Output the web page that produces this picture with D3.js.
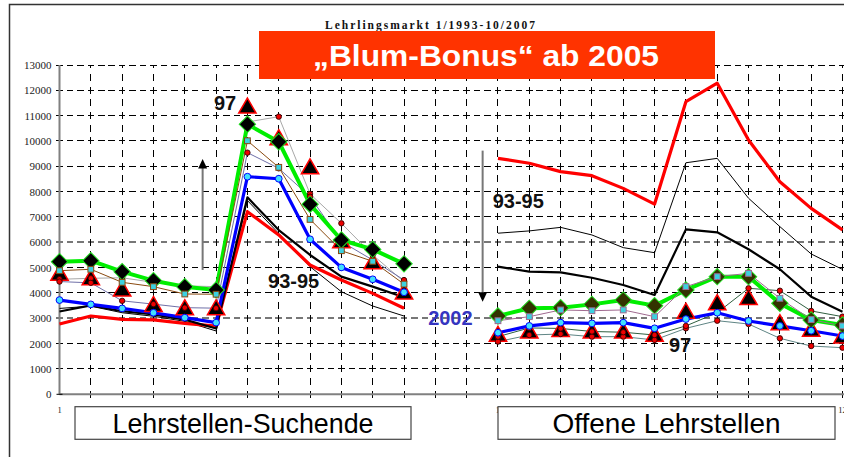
<!DOCTYPE html>
<html>
<head>
<meta charset="utf-8">
<script src="https://cdn.jsdelivr.net/npm/d3@7"></script>
<style>
  body { margin: 0; background: #fff; }
  svg { display: block; }
</style>
</head>
<body>
<svg id="chart" width="844" height="457"></svg>
<script>
// Monatswerte Jänner–Dezember, je Jahrgang eine Kurve
const monate = d3.range(1, 13).map(String);
const yTicks = d3.range(0, 13001, 1000);
const titel = "Lehrlingsmarkt 1/1993-10/2007";
const bannerText = "„Blum-Bonus“ ab 2005";

// Lehrstellen-Suchende
const suchendeRot      = [2775, 3090, 2960, 2935, 2800, 2690, 7210, 6290, 5105, 4510, 3985, 3395];
const suchendeSchwarz  = [3270, 3510, 3280, 3150, 2950, 2600, 7775, 6485, 5500, 4645, 4250, 3830];
const suchendeDuenn    = [3390, 3480, 3220, 3080, 2880, 2500, 7650, 6350, 5040, 4050, 3485, 3090];
const suchendeGrau     = [4540, 4580, 4600, 4420, 4280, 4250, 10750, 10960, 7910, 6750, 5500, 4445];
const suchendeSchiefer = [4450, 4400, 3690, 3560, 3420, 3400, 9540, 8920, 7800, 6030, 5300, 4510];
const suchende97       = [4700, 4520, 4080, 3470, 3340, 3340, 11300, 10050, 8900, 5980, 5150, 3960];
const suchendeGruen    = [5235, 5275, 4840, 4485, 4250, 4120, 10660, 9970, 7500, 6090, 5720, 5150];
const suchendeBraun    = [4880, 4935, 4420, 4250, 3960, 3950, 10010, 8960, 6905, 5670, 5250, 4350];
const suchendeBlau     = [3720, 3550, 3390, 3220, 3025, 2830, 8590, 8510, 6120, 5010, 4540, 4030];

// Offene Lehrstellen
const offeneRot      = [9315, 9120, 8790, 8630, 8130, 7510, 11550, 12280, 10040, 8390, 7340, 6490];
const offeneSchwarz  = [5040, 4840, 4815, 4600, 4315, 3920, 6510, 6395, 5725, 4935, 3855, 3260];
const offeneDuenn    = [6360, 6450, 6590, 6290, 5790, 5590, 9140, 9315, 7740, 6620, 5540, 4930];
const offeneGrau     = [2080, 2340, 2380, 2275, 2275, 2145, 2605, 2905, 2775, 2210, 1905, 1840];
const offeneSchiefer = [2275, 2620, 2600, 2480, 2450, 2340, 2700, 3220, 4185, 4090, 3290, 3065];
const offene97       = [2290, 2420, 2480, 2420, 2420, 2290, 3200, 3540, 3740, 2750, 2490, 2220];
const offeneGruen    = [3090, 3395, 3420, 3550, 3720, 3500, 4120, 4645, 4645, 3590, 2935, 2735];
const offeneBraun    = [2905, 3065, 3330, 3300, 3330, 3065, 4250, 4645, 4775, 3790, 2950, 2700];
const offeneBlau     = [2430, 2700, 2830, 2800, 2830, 2605, 2970, 3220, 2895, 2700, 2510, 2300];

// Kategorie-Positionen: Suchende ab 0, Offene ab 14
const START_SUCHENDE = 0, START_OFFENE = 14;

const svg = d3.select("#chart");
const x = d3.scaleLinear().domain([0, 25]).range([59.5, 842.5]);
const y = d3.scaleLinear().domain([0, 13000]).range([394.3, 65]);
const step = x(1) - x(0);
const rowStep = y(0) - y(1000);

const pts = (arr, start) => arr.map((v, k) => ({ i: start + k, v }));

// Serien: Linienstil je Block (links / rechts) und Marker
const serien = [
  { id: "grau", links: suchendeGrau, rechts: offeneGrau, farbe: ["#a8a8a8", "#5f8585"], breite: 1, marker: "punkt" },
  { id: "schiefer", links: suchendeSchiefer, rechts: offeneSchiefer, farbe: ["#7070a8", "#2f5f3f"], breite: 1, marker: "punkt" },
  { id: "duenn", links: suchendeDuenn, rechts: offeneDuenn, farbe: ["#000", "#000"], breite: 1, marker: null },
  { id: "rot", links: suchendeRot, rechts: offeneRot, farbe: ["#ff0000", "#ff0000"], breite: 3.2, marker: null },
  { id: "schwarz", links: suchendeSchwarz, rechts: offeneSchwarz, farbe: ["#000", "#000"], breite: 2.2, marker: null },
  { id: "j97", links: suchende97, rechts: offene97, farbe: null, breite: 0, marker: "dreieck" },
  { id: "gruen", links: suchendeGruen, rechts: offeneGruen, farbe: ["#00ee00", "#00ee00"], breite: 4, marker: "raute" },
  { id: "braun", links: suchendeBraun, rechts: offeneBraun, farbe: ["#8a4a10", "#a06a90"], breite: 1, marker: "quadrat" },
  { id: "blau", links: suchendeBlau, rechts: offeneBlau, farbe: ["#0000ff", "#0000ff"], breite: 3.2, marker: "kreis" }
];

const boxes = [
  { t: "Lehrstellen-Suchende", x0: 75, x1: 411, len: 261 },
  { t: "Offene Lehrstellen", x0: 498, x1: 835, len: 228 }
];

// Rahmen
svg.append("rect").attr("x", 9.5).attr("y", 4.5).attr("width", 900).attr("height", 500)
  .attr("fill", "#fff").attr("stroke", "#333").attr("stroke-width", 1.5);

// Gitter horizontal
const gridH = svg.append("g").attr("shape-rendering", "crispEdges");
yTicks.filter(v => v > 0).forEach(v => {
  const strong = v === 3000 || v === 6000;
  gridH.append("line")
    .attr("x1", x(0) - 3.25).attr("x2", 844)
    .attr("y1", y(v)).attr("y2", y(v))
    .attr("stroke", strong ? "#777" : "#000")
    .attr("stroke-width", strong ? 2 : 1)
    .attr("stroke-dasharray", `6.5,${(step / 3 - 6.5).toFixed(2)}`);
});
// Gitter vertikal
const gridV = svg.append("g").attr("shape-rendering", "crispEdges");
d3.range(1, 26).forEach(i => {
  gridV.append("line")
    .attr("x1", x(i)).attr("x2", x(i))
    .attr("y1", y(0) + 3.5).attr("y2", y(13000))
    .attr("stroke", "#000").attr("stroke-width", 1)
    .attr("stroke-dasharray", `7,${(rowStep / 2 - 7).toFixed(2)}`);
});

// Achsen
svg.append("line").attr("x1", x(0)).attr("x2", x(0)).attr("y1", y(13000)).attr("y2", y(0))
  .attr("stroke", "#808080").attr("stroke-width", 2);
svg.append("line").attr("x1", x(0)).attr("x2", 844).attr("y1", y(0)).attr("y2", y(0))
  .attr("stroke", "#808080").attr("stroke-width", 2);
svg.append("line").attr("x1", x(0) - 3).attr("x2", x(0) + 3).attr("y1", y(0)).attr("y2", y(0))
  .attr("stroke", "#000");

const yAxis = svg.append("g").attr("transform", `translate(${x(0) - 8},0)`)
  .call(d3.axisLeft(y).tickValues(yTicks).tickSize(0).tickFormat(d3.format("d")));
yAxis.select(".domain").remove();
yAxis.selectAll("text").attr("font-family", "Liberation Serif, serif").attr("font-size", 11)
  .attr("fill", "#222").attr("x", 0);

// x-Beschriftungen (Monate) – größtenteils von den Kästchen verdeckt
const xLab = svg.append("g").attr("font-family", "Liberation Serif, serif").attr("font-size", 8.5)
  .attr("fill", "#222").attr("text-anchor", "middle");
[START_SUCHENDE, START_OFFENE].forEach(s => {
  monate.forEach((m, k) => {
    xLab.append("text").attr("x", x(s + k)).attr("y", 412.5).text(m);
  });
});

// Linien
const line = d3.line().x(d => x(d.i)).y(d => y(d.v));
const linesG = svg.append("g").attr("fill", "none").attr("stroke-linejoin", "round");
function drawLines(s) {
  if (!s.farbe) return;
  [[s.links, START_SUCHENDE, 0], [s.rechts, START_OFFENE, 1]].forEach(([arr, st, p]) => {
    linesG.append("path").datum(pts(arr, st)).attr("d", line)
      .attr("stroke", s.farbe[p]).attr("stroke-width", s.breite);
  });
}

const markerG = svg.append("g");
function drawMarkers(s) {
  const all = [
    ...pts(s.links, START_SUCHENDE).map(d => ({ ...d, p: 0 })),
    ...pts(s.rechts, START_OFFENE).map(d => ({ ...d, p: 1 }))
  ];
  const g = markerG.append("g");
  if (s.marker === "dreieck") {
    g.selectAll("path").data(all).join("path")
      .attr("d", d3.symbol(d3.symbolTriangle, 130))
      .attr("transform", d => `translate(${x(d.i)},${y(d.v)})`)
      .attr("fill", "#000").attr("stroke", "#ff0000").attr("stroke-width", 1.5);
  } else if (s.marker === "punkt") {
    g.selectAll("circle").data(all).join("circle")
      .attr("cx", d => x(d.i)).attr("cy", d => y(d.v)).attr("r", 2.7)
      .attr("fill", "#ee0000").attr("stroke", "#300").attr("stroke-width", 0.9);
  } else if (s.marker === "raute") {
    g.selectAll("path").data(all).join("path")
      .attr("d", d3.symbol(d3.symbolSquare, 135))
      .attr("transform", d => `translate(${x(d.i)},${y(d.v)}) rotate(45)`)
      .attr("fill", d => d.p === 0 ? "#000" : "#333300")
      .attr("stroke", "#22dd22").attr("stroke-width", 1);
  } else if (s.marker === "quadrat") {
    g.selectAll("rect").data(all).join("rect")
      .attr("x", d => x(d.i) - 2.9).attr("y", d => y(d.v) - 2.9)
      .attr("width", 5.8).attr("height", 5.8)
      .attr("fill", "#3cd0e0").attr("stroke", d => s.farbe[d.p]).attr("stroke-width", 1);
  } else if (s.marker === "kreis") {
    g.selectAll("circle").data(all).join("circle")
      .attr("cx", d => x(d.i)).attr("cy", d => y(d.v)).attr("r", 3.4)
      .attr("fill", "#40e0ff").attr("stroke", "#0000ff").attr("stroke-width", 1);
  }
}

const byId = Object.fromEntries(serien.map(s => [s.id, s]));
// Hintergrundlinien
["grau", "schiefer", "duenn", "rot", "schwarz"].forEach(id => drawLines(byId[id]));
drawMarkers(byId.j97);
drawMarkers(byId.grau);
drawMarkers(byId.schiefer);
drawLines(byId.gruen);
drawMarkers(byId.gruen);
drawLines(byId.braun);
drawMarkers(byId.braun);
drawLines(byId.blau);
drawMarkers(byId.blau);

// Pfeile
function pfeil(i, vFrom, vTo) {
  const px = x(i), y0 = y(vFrom), y1 = y(vTo);
  const dir = y1 < y0 ? 1 : -1;
  svg.append("line").attr("x1", px).attr("x2", px).attr("y1", y0).attr("y2", y1 + dir * 8)
    .attr("stroke", "#777").attr("stroke-width", 2);
  svg.append("path")
    .attr("d", `M${px},${y1} L${px - 4.5},${y1 + dir * 9.5} L${px + 4.5},${y1 + dir * 9.5} Z`)
    .attr("fill", "#000");
}
pfeil(4.57, 4910, 9290);
pfeil(13.51, 9620, 3655);

// Beschriftungen
const labels = [
  { t: "97", i: 5.64, v: 11225, anchor: "end", c: "#111" },
  { t: "93-95", i: 6.66, v: 4185, anchor: "start", c: "#111" },
  { t: "93-95", i: 13.83, v: 7355, anchor: "start", c: "#111" },
  { t: "2002", i: 11.77, v: 2736, anchor: "start", c: "#3535c0" },
  { t: "97", i: 19.46, v: 1670, anchor: "start", c: "#111" }
];
svg.append("g").selectAll("text").data(labels).join("text")
  .attr("x", d => x(d.i)).attr("y", d => y(d.v))
  .attr("text-anchor", d => d.anchor)
  .attr("font-family", "Liberation Sans, Arial, sans-serif")
  .attr("font-weight", "bold").attr("font-size", 20)
  .attr("fill", d => d.c)
  .text(d => d.t);

// Kästchen unter der Achse
boxes.forEach(b => {
  svg.append("rect").attr("x", b.x0).attr("y", 406.7).attr("width", b.x1 - b.x0).attr("height", 32.6)
    .attr("fill", "#fff").attr("stroke", "#444").attr("stroke-width", 1.2);
  svg.append("text").attr("x", (b.x0 + b.x1) / 2).attr("y", 432.7)
    .attr("text-anchor", "middle")
    .attr("font-family", "Liberation Sans, Arial, sans-serif").attr("font-size", 28)
    .attr("textLength", b.len).attr("lengthAdjust", "spacingAndGlyphs")
    .attr("fill", "#000").text(b.t);
});

// Titel
svg.append("text").attr("x", 430).attr("y", 28.5).attr("text-anchor", "middle")
  .attr("font-family", "Liberation Serif, serif").attr("font-weight", "bold").attr("font-size", 11.5)
  .attr("textLength", 210).attr("lengthAdjust", "spacing")
  .attr("fill", "#111").text(titel);

// Banner
svg.append("rect").attr("x", 259).attr("y", 31).attr("width", 456).attr("height", 48).attr("fill", "#ff3300");
svg.append("text").attr("x", 486).attr("y", 65.5).attr("text-anchor", "middle")
  .attr("font-family", "Liberation Sans, Arial, sans-serif").attr("font-weight", "bold").attr("font-size", 30)
  .attr("textLength", 346).attr("lengthAdjust", "spacingAndGlyphs")
  .attr("fill", "#fff").text(bannerText);
</script>
</body>
</html>
